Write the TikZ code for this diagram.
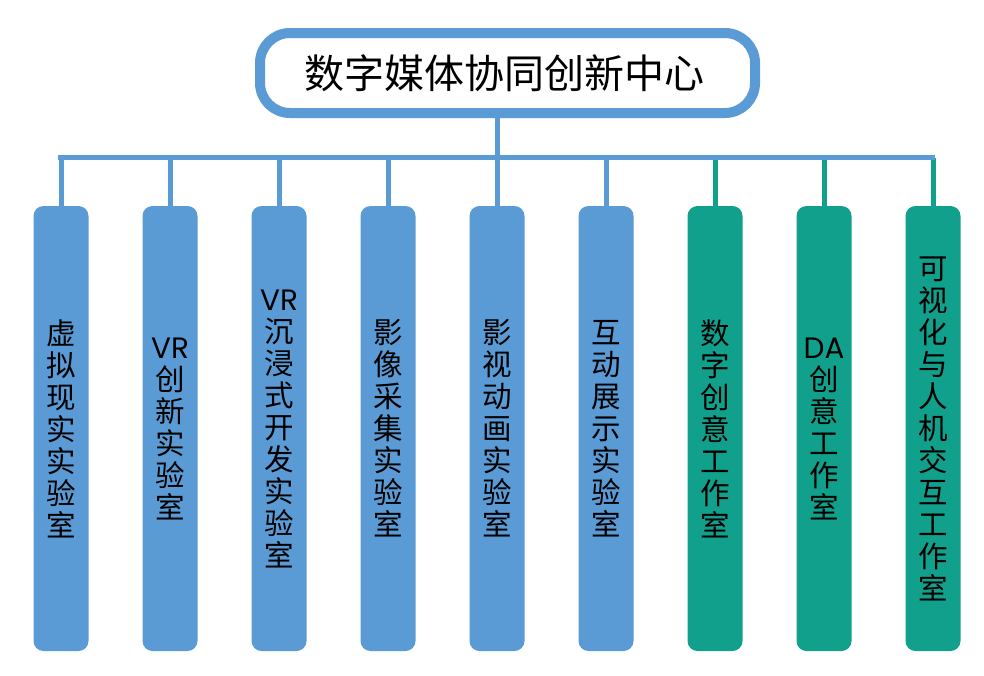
\documentclass[tikz,border=0pt]{standalone}
\usepackage{fontspec}
\setmainfont{Noto Sans CJK SC}
\newfontfamily\latf{Poppins}
\definecolor{cblue}{HTML}{5B9BD5}
\definecolor{cteal}{HTML}{11A08C}
\begin{document}
\begin{tikzpicture}[x=1pt,y=-1pt,
  colbox/.style={rounded corners=10pt, minimum width=55pt, minimum height=445pt, inner sep=0pt, align=center, font=\fontsize{29.5}{32}\selectfont, text=black},
  conn/.style={line width=5pt},
  topbox/.style={draw=cblue, line width=10pt, rounded corners=30pt, fill=white, minimum width=495pt, minimum height=80pt, font=\fontsize{40}{42}\selectfont}]
\useasboundingbox (0,0) rectangle (984,675);
\fill[white] (0,0) rectangle (984,675);
\node[topbox] (top) at (507.5,73) {\hspace*{-6pt}数字媒体协同创新中心};
\coordinate (busL) at (58,157.5);
\coordinate (busR) at (935,157.5);
\node[colbox, fill=cblue] (c1) at (61,428.5) {虚\\拟\\现\\实\\实\\验\\室};
\node[colbox, fill=cblue] (c2) at (170,428.5) {{\latf VR}\\创\\新\\实\\验\\室};
\node[colbox, fill=cblue] (c3) at (279,428.5) {{\latf VR}\\沉\\浸\\式\\开\\发\\实\\验\\室};
\node[colbox, fill=cblue] (c4) at (388,428.5) {影\\像\\采\\集\\实\\验\\室};
\node[colbox, fill=cblue] (c5) at (497,428.5) {影\\视\\动\\画\\实\\验\\室};
\node[colbox, fill=cblue] (c6) at (606,428.5) {互\\动\\展\\示\\实\\验\\室};
\node[colbox, fill=cteal] (c7) at (715,428.5) {数\\字\\创\\意\\工\\作\\室};
\node[colbox, fill=cteal] (c8) at (824,428.5) {{\latf DA}\\创\\意\\工\\作\\室};
\node[colbox, fill=cteal] (c9) at (933,428.5) {可\\视\\化\\与\\人\\机\\交\\互\\工\\作\\室};
\foreach \i in {1,...,6} \draw[conn, cblue] (c\i.north) -- (c\i.north |- busL);
\foreach \i in {7,8,9} \draw[conn, cteal] (c\i.north) -- (c\i.north |- busL);
\draw[conn, cblue] (busL) -- (busR);
\draw[conn, cblue] (c5.north |- top.south) -- (c5.north |- busL);
\end{tikzpicture}
\end{document}
